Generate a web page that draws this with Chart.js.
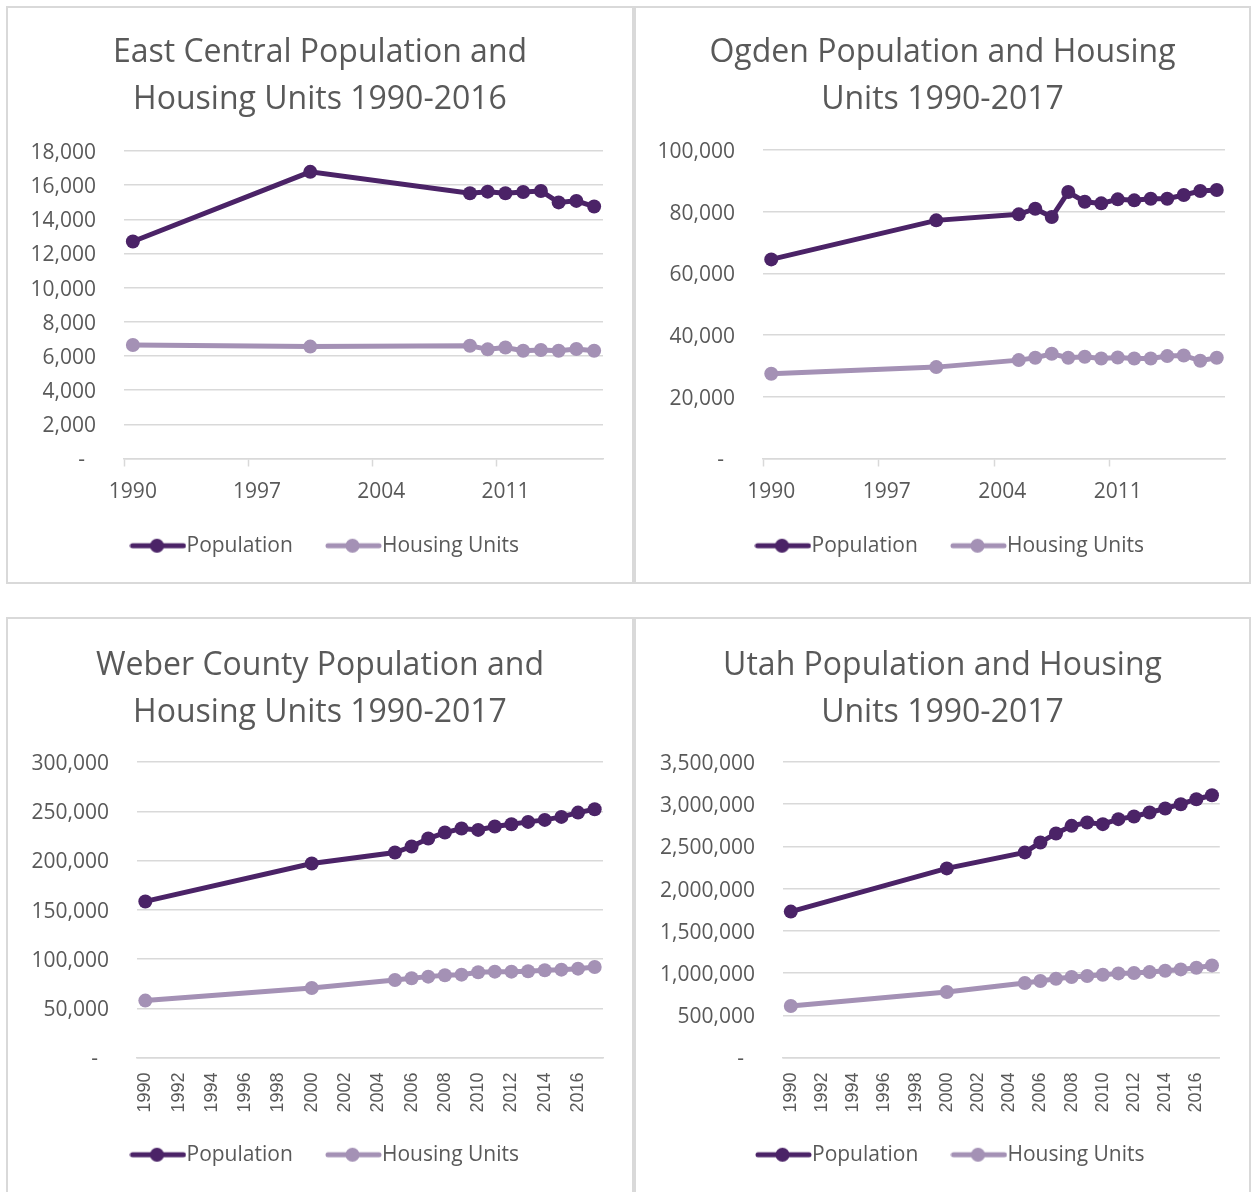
<!DOCTYPE html>
<html lang="en">
<head>
<meta charset="utf-8">
<title>Population and Housing Units</title>
<script src="https://cdn.jsdelivr.net/npm/chart.js@4"></script>
<style>
  html, body { margin: 0; padding: 0; background: #fff; overflow: hidden; }
  body { width: 1253px; height: 1192px; position: relative; }
  .panel { position: absolute; border: 2px solid #d9d9d9; background: #fff; }
  .panel canvas { display: block; }
</style>
</head>
<body>
<div class="panel" style="left:6px;top:6px;width:624px;height:574px"><canvas id="eastCentral" width="624" height="574"></canvas></div>
<div class="panel" style="left:634px;top:6px;width:613px;height:574px"><canvas id="ogden" width="613" height="574"></canvas></div>
<div class="panel" style="left:6px;top:617px;width:624px;height:580px"><canvas id="weber" width="624" height="580"></canvas></div>
<div class="panel" style="left:634px;top:617px;width:613px;height:580px"><canvas id="utah" width="613" height="580"></canvas></div>

<script>
    // categories
    const years1990to2016 = [1990, 1991, 1992, 1993, 1994, 1995, 1996, 1997, 1998, 1999, 2000, 2001, 2002, 2003,
        2004, 2005, 2006, 2007, 2008, 2009, 2010, 2011, 2012, 2013, 2014, 2015, 2016]
    const years1990to2017 = [1990, 1991, 1992, 1993, 1994, 1995, 1996, 1997, 1998, 1999, 2000, 2001, 2002, 2003,
        2004, 2005, 2006, 2007, 2008, 2009, 2010, 2011, 2012, 2013, 2014, 2015, 2016, 2017]

    // East Central (1990, 2000, 2009-2016)
    const eastCentralPop = [12700, null, null, null, null, null, null, null, null, null, 16780,
        null, null, null, null, null, null, null, null,
        15530, 15620, 15530, 15600, 15660, 14990, 15080, 14750]
    const eastCentralHousing = [6640, null, null, null, null, null, null, null, null, null, 6550,
        null, null, null, null, null, null, null, null,
        6600, 6390, 6500, 6310, 6350, 6310, 6410, 6310]

    // Ogden (1990, 2000, 2005-2017)
    const ogdenPop = [64540, null, null, null, null, null, null, null, null, null, 77190,
        null, null, null, null,
        79140, 80970, 78270, 86380, 83240, 82700, 84000, 83680, 84220, 84220, 85400, 86700, 87030]
    const ogdenHousing = [27460, null, null, null, null, null, null, null, null, null, 29620,
        null, null, null, null,
        31890, 32650, 33950, 32650, 32970, 32430, 32760, 32430, 32430, 33190, 33400, 31680, 32650]

    // Weber County
    const weberPop = [158450, null, null, null, null, null, null, null, null, null, 196960,
        null, null, null, null,
        208110, 214190, 222300, 228380, 232430, 231080, 234460, 236820, 239190, 241220, 244260, 248650, 252030]
    const weberHousing = [57770, null, null, null, null, null, null, null, null, null, 70610,
        null, null, null, null,
        78720, 80410, 82100, 83450, 84120, 86490, 87160, 87160, 87500, 88510, 89190, 90200, 91890]

    // Utah
    const utahPop = [1728000, null, null, null, null, null, null, null, null, null, 2240000,
        null, null, null, null,
        2429000, 2547000, 2654000, 2744000, 2783000, 2764000, 2823000, 2854000, 2902000, 2949000, 3000000, 3059000, 3106000]
    const utahHousing = [610000, null, null, null, null, null, null, null, null, null, 775600,
        null, null, null, null,
        881900, 905500, 933100, 952800, 964600, 980300, 996100, 1000000, 1011800, 1027600, 1043300, 1063000, 1090600]

    const seriesNames = ['Population', 'Housing Units']

    const popColor = '#4b2367'
    const housingColor = '#a491b5'
    const gridColor = '#d9d9d9'
    const textColor = '#595959'
    const legendFont = 21

    function legendMarker(color) {
        const c = document.createElement('canvas')
        c.width = 57
        c.height = 16
        const g = c.getContext('2d')
        g.strokeStyle = color
        g.lineWidth = 5
        g.lineCap = 'round'
        g.beginPath()
        g.moveTo(3, 8)
        g.lineTo(54, 8)
        g.stroke()
        g.fillStyle = color
        g.beginPath()
        g.arc(27.5, 8, 7, 0, Math.PI * 2)
        g.fill()
        return c
    }
    const markers = [legendMarker(popColor), legendMarker(housingColor)]

    // title and legend are centred on the whole panel, not on the area left of the right padding
    const boxShift = {
        id: 'boxShift',
        afterLayout(chart, args, o) {
            if (chart.legend) {
                chart.legend.left += o.legend
                chart.legend.right += o.legend
            }
            if (chart.titleBlock) {
                chart.titleBlock.left += o.title
                chart.titleBlock.right += o.title
            }
        }
    }

    function makeChart(id, opts) {
        const rotated = opts.rotated
        new Chart(document.getElementById(id), {
            type: 'line',
            plugins: [boxShift],
            data: {
                labels: opts.labels,
                datasets: [{
                    label: seriesNames[0],
                    data: opts.pop,
                    borderColor: popColor,
                    backgroundColor: popColor,
                    borderWidth: 5,
                    pointRadius: 7,
                    pointBorderWidth: 0,
                    pointBackgroundColor: popColor,
                    spanGaps: true,
                    tension: 0
                }, {
                    label: seriesNames[1],
                    data: opts.housing,
                    borderColor: housingColor,
                    backgroundColor: housingColor,
                    borderWidth: 5,
                    pointRadius: 7,
                    pointBorderWidth: 0,
                    pointBackgroundColor: housingColor,
                    spanGaps: true,
                    tension: 0
                }]
            },
            options: {
                responsive: false,
                animation: false,
                devicePixelRatio: 1,
                layout: {
                    padding: {left: 0, right: opts.padRight, top: 0, bottom: opts.padBottom}
                },
                plugins: {
                    tooltip: {enabled: false},
                    boxShift: {legend: 24, title: opts.padRight / 2},
                    title: {
                        display: true,
                        text: opts.title,
                        color: textColor,
                        font: {family: 'Open Sans', size: 32, weight: 'normal', lineHeight: 47 / 32},
                        padding: {top: opts.titleTop, bottom: opts.titleBottom}
                    },
                    legend: {
                        position: 'bottom',
                        labels: {
                            usePointStyle: true,
                            pointStyleWidth: 57 - legendFont,
                            padding: 10,
                            color: textColor,
                            font: {family: 'Open Sans', size: legendFont},
                            generateLabels(chart) {
                                const items = Chart.defaults.plugins.legend.labels.generateLabels(chart)
                                items.forEach((it, i) => {
                                    it.pointStyle = markers[i]
                                    if (i === 0) it.text = it.text + '      '
                                })
                                return items
                            }
                        }
                    }
                },
                scales: {
                    x: {
                        offset: true,
                        grid: {
                            offset: true,
                            display: !rotated,
                            drawOnChartArea: false,
                            drawTicks: !rotated,
                            tickLength: 8,
                            tickWidth: 1.5,
                            tickColor: ctx => ctx.index % opts.labelStep === 0 ? gridColor : 'rgba(0,0,0,0)'
                        },
                        border: {display: true, color: gridColor, width: 1.5},
                        ticks: {
                            autoSkip: false,
                            maxRotation: rotated ? 90 : 0,
                            minRotation: rotated ? 90 : 0,
                            padding: rotated ? 15 : 13,
                            color: textColor,
                            font: rotated ? {family: 'Liberation Sans', size: 18} : {family: 'Open Sans', size: 21},
                            callback: function (v, i) {
                                return i % opts.labelStep === 0 ? String(this.getLabelForValue(v)) : ''
                            }
                        },
                        afterFit(s) { s.height = opts.xHeight }
                    },
                    y: {
                        min: 0,
                        max: opts.yMax,
                        ticks: {
                            stepSize: opts.yStep,
                            padding: 28,
                            labelOffset: 2,
                            color: textColor,
                            font: {family: 'Open Sans', size: 21},
                            callback: v => v === 0 ? '-  ' : v.toLocaleString('en-US')
                        },
                        grid: {color: gridColor, lineWidth: 1.5, drawTicks: false},
                        border: {display: false},
                        afterFit(s) { s.width = opts.yWidth }
                    }
                }
            }
        })
    }

    window.addEventListener('load', function () {
        makeChart('eastCentral', {
            title: ['East Central Population and', 'Housing Units 1990-2016'],
            labels: years1990to2016, pop: eastCentralPop, housing: eastCentralHousing,
            yMax: 18000, yStep: 2000, labelStep: 7, rotated: false,
            yWidth: 116, padRight: 29, padBottom: 15.75, xHeight: 66.75,
            titleTop: 21.5, titleBottom: 27.5
        })
        makeChart('ogden', {
            title: ['Ogden Population and Housing', 'Units 1990-2017'],
            labels: years1990to2017, pop: ogdenPop, housing: ogdenHousing,
            yMax: 100000, yStep: 20000, labelStep: 7, rotated: false,
            yWidth: 127, padRight: 24, padBottom: 15.75, xHeight: 66.75,
            titleTop: 21.5, titleBottom: 26.5
        })
        makeChart('weber', {
            title: ['Weber County Population and', 'Housing Units 1990-2017'],
            labels: years1990to2017, pop: weberPop, housing: weberHousing,
            yMax: 300000, yStep: 50000, labelStep: 2, rotated: true,
            yWidth: 129, padRight: 29, padBottom: 23.75, xHeight: 76.75,
            titleTop: 23, titleBottom: 26
        })
        makeChart('utah', {
            title: ['Utah Population and Housing', 'Units 1990-2017'],
            labels: years1990to2017, pop: utahPop, housing: utahHousing,
            yMax: 3500000, yStep: 500000, labelStep: 2, rotated: true,
            yWidth: 147, padRight: 23, padBottom: 23.75, xHeight: 76.75,
            titleTop: 23, titleBottom: 26
        })
    })
</script>
</body>
</html>
